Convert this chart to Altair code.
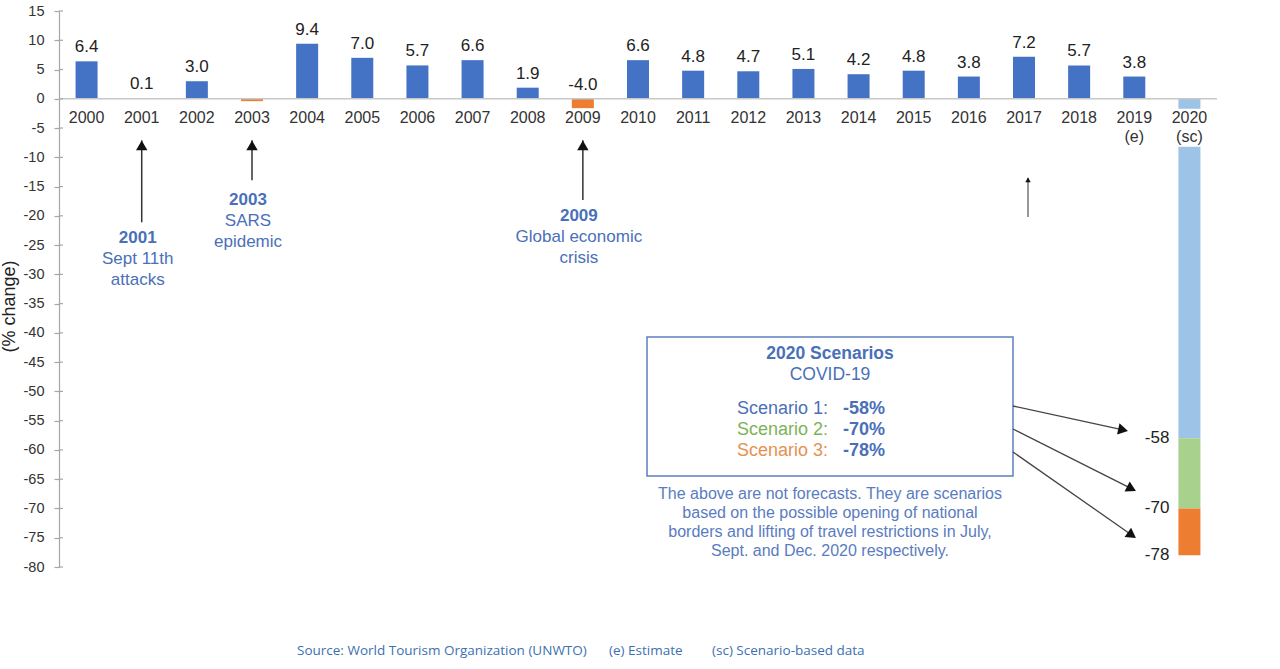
import math
import altair as alt
import pandas as pd

# ---------------- data ----------------
years = ["2000", "2001", "2002", "2003", "2004", "2005", "2006", "2007", "2008", "2009",
         "2010", "2011", "2012", "2013", "2014", "2015", "2016", "2017", "2018", "2019", "2020"]
sub_labels = [""] * 19 + ["(e)", "(sc)"]

bar_years = years[:20]
bar_values = [6.4, 0.1, 3.0, -0.4, 9.4, 7.0, 5.7, 6.6, 1.9, -1.6,
              6.6, 4.8, 4.7, 5.1, 4.2, 4.8, 3.8, 7.2, 5.7, 3.8]
bar_labels = ["6.4", "0.1", "3.0", "", "9.4", "7.0", "5.7", "6.6", "1.9", "-4.0",
              "6.6", "4.8", "4.7", "5.1", "4.2", "4.8", "3.8", "7.2", "5.7", "3.8"]
bar_kinds = ["normal", "normal", "normal", "crisis", "normal", "normal", "normal", "normal", "normal", "crisis",
             "normal", "normal", "normal", "normal", "normal", "normal", "normal", "normal", "normal", "normal"]

scenario_names = ["Scenario 1", "Scenario 2", "Scenario 3"]
scenario_values = [-58, -70, -78]
scenario_labels = ["-58", "-70", "-78"]
scenario_pct = ["-58%", "-70%", "-78%"]

# event annotations (year, bold title, text lines)
event_years = ["2001", "2003", "2009"]
event_titles = ["2001", "2003", "2009"]
event_lines = [["Sept 11th", "attacks"], ["SARS", "epidemic"], ["Global economic", "crisis"]]
event_title_y = [-23.8, -17.3, -20.0]
event_arrow_bottom = [-21.1, -13.9, -17.3]
arrow_tip = -7.1

note_lines = ["The above are not forecasts. They are scenarios",
              "based on the possible opening of national",
              "borders and lifting of travel restrictions in July,",
              "Sept. and Dec. 2020 respectively."]

source_parts = ["Source: World Tourism Organization (UNWTO)", "(e) Estimate", "(sc) Scenario-based data"]

y_ticks = list(range(-80, 16, 5))

# ---------------- styles ----------------
BLUE = "#4472C4"
ORANGE = "#ED7D31"
LIGHT = "#9DC3E6"
GREEN = "#A9D18E"
ANN = "#4A70B8"
FONT = "Liberation Sans"
W, H = 1158, 556

xscale = alt.Scale(domain=years, paddingInner=0.6, paddingOuter=0.3)
yscale = alt.Scale(domain=[-80, 15], nice=False, zero=False)
yaxis = alt.Axis(values=y_ticks, grid=False, labelFontSize=14.5, labelColor="#333333", labelFont=FONT,
                 labelExpr="datum.value + ''",
                 tickColor="#A6A6A6", domainColor="#A6A6A6", tickSize=5, labelPadding=10,
                 domainWidth=1.2, tickWidth=1.2,
                 titleFontSize=18, titleFontWeight="normal", titleColor="#222222", titleFont=FONT,
                 titleX=-45, titleY=295, titleBaseline="alphabetic", titleAngle=270)


def X(field="year"):
    return alt.X(f"{field}:N", scale=xscale, axis=None)


def Y(field="v"):
    return alt.Y(f"{field}:Q", scale=yscale, axis=yaxis, title="(% change)")


color_scale = alt.Scale(domain=["normal", "crisis", "Scenario 1", "Scenario 2", "Scenario 3"],
                        range=[BLUE, ORANGE, LIGHT, GREEN, ORANGE])

# ---------------- tables ----------------
bars = pd.DataFrame({"year": bar_years, "v": bar_values, "v0": [0] * 20, "kind": bar_kinds,
                     "label": bar_labels, "lv": [max(v, 0) for v in bar_values]})
tops = [0] + scenario_values[:-1]
scen = pd.DataFrame({"year": ["2020"] * 3, "v": tops, "v2": scenario_values, "kind": scenario_names,
                     "label": scenario_labels, "lv": scenario_values})
bar_df = pd.concat([bars[["year", "v", "v0", "kind"]],
                    scen.rename(columns={"v": "v0", "v2": "v"})[["year", "v", "v0", "kind"]]])

xlab = pd.DataFrame({"year": years, "t": years, "s": sub_labels, "v": [-3.3] * 21, "v2": [-6.6] * 21})

# ---------------- layers ----------------
bar_layer = alt.Chart(bar_df).mark_bar(size=22).encode(
    x=X(), y=Y("v"), y2="v0:Q",
    color=alt.Color("kind:N", scale=color_scale, legend=None))

mask = alt.Chart(pd.DataFrame({"year": ["2020"], "v": [-1.7], "v2": [-8.2]})).mark_bar(
    size=30, color="white").encode(x=X(), y=Y("v"), y2="v2:Q")

zero = alt.Chart(pd.DataFrame({"v": [0]})).mark_rule(color="#C8C8C8", strokeWidth=1.5).encode(
    y=Y("v"), x=alt.value(0), x2=alt.value(W))

ticks_r = alt.Chart(pd.DataFrame({"v": y_ticks})).mark_rule(color="#A6A6A6", strokeWidth=1.2).encode(
    y=Y("v"), x=alt.value(0), x2=alt.value(4))

val_text = alt.Chart(bars).mark_text(fontSize=17, font=FONT, color="#222222", dy=-14, baseline="middle").encode(
    x=X(), y=Y("lv"), text="label:N")

year_text = alt.Chart(xlab).mark_text(fontSize=16, font=FONT, color="#333333", baseline="middle").encode(
    x=X(), y=Y("v"), text="t:N")
sub_text = alt.Chart(xlab).mark_text(fontSize=16, font=FONT, color="#333333", baseline="middle").encode(
    x=X(), y=Y("v2"), text="s:N")

scen_text = alt.Chart(scen).mark_text(fontSize=17, font=FONT, color="#222222", align="right",
                                      baseline="middle", dx=-20).encode(
    x=X(), y=Y("lv"), text="label:N")

# event arrows
ev = pd.DataFrame({"year": event_years, "v": event_arrow_bottom, "v2": [arrow_tip] * 3})
ev_rule = alt.Chart(ev).mark_rule(color="#333333", strokeWidth=1.5).encode(x=X(), y=Y("v"), y2="v2:Q")
ev_head = alt.Chart(ev).mark_point(shape="triangle-up", filled=True, size=130, color="#111111",
                                   opacity=1, yOffset=5).encode(x=X(), y=Y("v2"))

small = pd.DataFrame({"year": ["2017"], "v": [-20.2], "v2": [-13.5]})
small_rule = alt.Chart(small).mark_rule(color="#333333", strokeWidth=1, xOffset=4).encode(
    x=X(), y=Y("v"), y2="v2:Q")
small_head = alt.Chart(small).mark_point(shape="triangle-up", filled=True, size=30, color="#111111",
                                         opacity=1, yOffset=2, xOffset=4).encode(x=X(), y=Y("v2"))

ev_title_df = pd.DataFrame({"year": event_years, "t": event_titles, "v": event_title_y})
ev_title = alt.Chart(ev_title_df).mark_text(fontSize=17, font=FONT, fontWeight="bold", color=ANN,
                                            baseline="middle", dx=-4).encode(x=X(), y=Y("v"), text="t:N")
rows = []
for yr, ty, lines in zip(event_years, event_title_y, event_lines):
    for i, ln in enumerate(lines):
        rows.append({"year": yr, "t": ln, "v": ty - 3.6 * (i + 1)})
ev_lines = alt.Chart(pd.DataFrame(rows)).mark_text(fontSize=17, font=FONT, color=ANN,
                                                   baseline="middle", dx=-4).encode(
    x=X(), y=Y("v"), text="t:N")

# scenario box
one = pd.DataFrame({"a": [0]})
box = alt.Chart(one).mark_rect(fill="white", stroke="#5B7FC0", strokeWidth=1.5).encode(
    x=alt.value(588), x2=alt.value(954), y=alt.value(326), y2=alt.value(465))

box_title = alt.Chart(one).mark_text(fontSize=17.5, font=FONT, fontWeight="bold", color=ANN,
                                     text="2020 Scenarios").encode(x=alt.value(771), y=alt.value(343))
box_sub = alt.Chart(one).mark_text(fontSize=17.5, font=FONT, color=ANN, text="COVID-19").encode(
    x=alt.value(771), y=alt.value(364))

scen_colors = [ANN, "#7DB357", "#E8904F"]
scen_y = [398, 419, 440]
box_rows = []
for name, c, yy in zip(scenario_names, scen_colors, scen_y):
    box_rows.append(alt.Chart(one).mark_text(fontSize=18, font=FONT, color=c, align="right",
                                             text=name + ":").encode(x=alt.value(769), y=alt.value(yy)))
for p, yy in zip(scenario_pct, scen_y):
    box_rows.append(alt.Chart(one).mark_text(fontSize=18, font=FONT, color=ANN, fontWeight="bold",
                                             align="left", text=p).encode(x=alt.value(784), y=alt.value(yy)))

note = alt.Chart(pd.DataFrame({"t": note_lines, "py": [483, 502, 521, 540]})).mark_text(
    fontSize=16, font=FONT, color="#5A7CC0").encode(
    x=alt.value(771), y=alt.Y("py:Q", scale=None), text="t:N")

# box arrows (pixel positions, annotation only)
starts = [(954, 395), (954, 418), (954, 441)]
tips = [(1069, 420), (1077, 480), (1077, 527)]
arrow_layers = []
for (sx, sy), (tx, ty) in zip(starts, tips):
    dx, dy = tx - sx, ty - sy
    L = math.hypot(dx, dy)
    ux, uy = dx / L, dy / L
    ang = math.degrees(math.atan2(dy, dx)) + 90
    arrow_layers.append(alt.Chart(one).mark_rule(color="#444444", strokeWidth=1.3).encode(
        x=alt.value(sx), y=alt.value(sy), x2=alt.value(tx - 4 * ux), y2=alt.value(ty - 4 * uy)))
    arrow_layers.append(alt.Chart(one).mark_point(shape="triangle-up", filled=True, size=130,
                                                  color="#111111", opacity=1, angle=ang).encode(
        x=alt.value(tx - 5 * ux), y=alt.value(ty - 5 * uy)))

# source line
src_x = [238, 550, 653]
src = [alt.Chart(one).mark_text(fontSize=13.5, font="Open Sans", color="#3D70B2", align="left",
                                text=t).encode(x=alt.value(xx), y=alt.value(640))
       for t, xx in zip(source_parts, src_x)]

chart = alt.layer(
    bar_layer, mask, zero, ticks_r, val_text, year_text, sub_text, scen_text,
    ev_rule, ev_head, small_rule, small_head, ev_title, ev_lines,
    box, box_title, box_sub, *box_rows, note, *arrow_layers, *src
).properties(
    width=W, height=H,
    autosize=alt.AutoSizeParams(type="none"),
    padding={"left": 59, "top": 11, "right": 63, "bottom": 102},
    background="white"
).configure_view(stroke=None)

chart.save("out.html", embed_options={"renderer": "svg", "actions": False})
